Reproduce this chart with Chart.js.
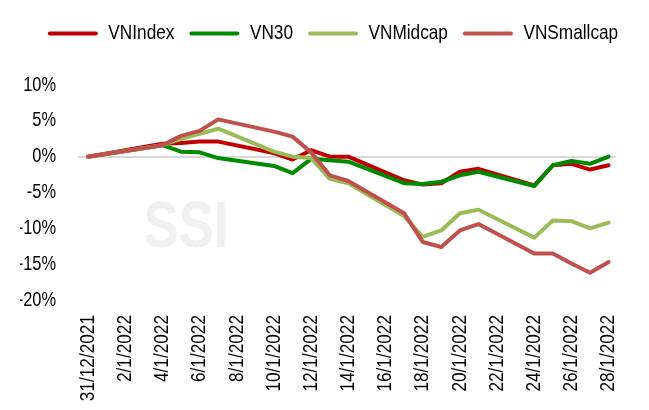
<!DOCTYPE html>
<html>
<head>
<meta charset="utf-8">
<script src="https://cdn.jsdelivr.net/npm/chart.js@4.4.0/dist/chart.umd.min.js"></script>
<style>
  html, body { margin: 0; padding: 0; background: #fff; }
  #wrap { width: 649px; height: 410px; }
</style>
</head>
<body>
<div id="wrap"><canvas id="myChart" width="649" height="410"></canvas></div>
<script>
// trading days
var dates = ["31/12/2021", "4/1/2022", "5/1/2022", "6/1/2022", "7/1/2022",
  "10/1/2022", "11/1/2022", "12/1/2022", "13/1/2022", "14/1/2022",
  "17/1/2022", "18/1/2022", "19/1/2022", "20/1/2022", "21/1/2022",
  "24/1/2022", "25/1/2022", "26/1/2022", "27/1/2022", "28/1/2022"];

// axis labels every 2 days
var tickLabels = ["31/12/2021", "2/1/2022", "4/1/2022", "6/1/2022", "8/1/2022",
  "10/1/2022", "12/1/2022", "14/1/2022", "16/1/2022", "18/1/2022",
  "20/1/2022", "22/1/2022", "24/1/2022", "26/1/2022", "28/1/2022"];

var seriesNames = ["VNIndex", "VN30", "VNMidcap", "VNSmallcap"];

// % change since 31/12/2021
var vnIndex = [0, 1.8, 1.9, 2.1, 2.1, 0.5, -0.4, 0.9, 0.0, 0.0, -3.3, -3.9, -3.7, -2.1, -1.7, -4.0, -1.2, -1.0, -1.8, -1.2];
var vn30 = [0, 1.6, 0.7, 0.6, -0.2, -1.3, -2.3, -0.3, -0.5, -0.7, -3.7, -3.8, -3.5, -2.6, -2.1, -4.1, -1.2, -0.6, -1.0, 0.0];
var vnMidcap = [0, 1.6, 2.5, 3.2, 3.9, 0.7, 0.0, -0.2, -3.1, -3.7, -8.3, -11.2, -10.3, -7.9, -7.4, -11.3, -8.9, -9.0, -10.0, -9.2];
var vnSmallcap = [0, 1.6, 2.9, 3.6, 5.2, 3.5, 2.8, 0.6, -2.6, -3.4, -7.9, -11.9, -12.6, -10.3, -9.4, -13.5, -13.5, -14.9, -16.2, -14.7];

var colors = ["#c00000", "#008a00", "#9bbb59", "#c0504d"];

// days since first date
function dayOf(s) {
  var p = s.split("/");
  var q = dates[0].split("/");
  return (Date.UTC(+p[2], +p[1] - 1, +p[0]) - Date.UTC(+q[2], +q[1] - 1, +q[0])) / 86400000;
}

var tickDays = tickLabels.map(dayOf);

function points(values) {
  return dates.map(function (d, i) {
    return { x: dayOf(d), y: values[i] };
  });
}

var allSeries = [vnIndex, vn30, vnMidcap, vnSmallcap];
var datasets = [];
for (var i = 0; i < allSeries.length; i++) {
  datasets.push({
    label: seriesNames[i],
    data: points(allSeries[i]),
    borderColor: colors[i],
    backgroundColor: colors[i],
    borderWidth: 4,
    pointRadius: 0,
    tension: 0,
    borderJoinStyle: "round",
    borderCapStyle: "round",
    order: allSeries.length - i
  });
}

var FONT = "'Liberation Sans', Arial, sans-serif";

// no narrow font installed: squeeze text horizontally (Arial Narrow look)
var NARROW = 0.82;
var ctx = document.getElementById("myChart").getContext("2d");
var origFill = ctx.fillText;
var origMeasure = ctx.measureText;
ctx.fillText = function (t, x, y) {
  this.save();
  this.translate(x, y);
  this.scale(NARROW, 1);
  origFill.call(this, t, 0, 0);
  this.restore();
};
ctx.measureText = function (t) {
  var m = origMeasure.call(this, t);
  return {
    width: m.width * NARROW,
    actualBoundingBoxAscent: m.actualBoundingBoxAscent,
    actualBoundingBoxDescent: m.actualBoundingBoxDescent,
    actualBoundingBoxLeft: m.actualBoundingBoxLeft * NARROW,
    actualBoundingBoxRight: m.actualBoundingBoxRight * NARROW
  };
};

// make room between legend and plot, nudge legend a bit right
var legendGap = {
  id: "legendGap",
  beforeInit: function (chart) {
    var fit = chart.legend.fit;
    chart.legend.fit = function () {
      fit.bind(chart.legend)();
      this.height = 77;
      if (this.lineWidths && this.lineWidths.length === 1) {
        this.lineWidths[0] -= 11;
      }
    };
  }
};

// SSI watermark
var watermark = {
  id: "watermark",
  beforeDatasetsDraw: function (chart) {
    var c = chart.ctx;
    c.save();
    c.fillStyle = "#f0f0f0";
    c.font = "bold 64px " + FONT;
    c.textAlign = "center";
    c.textBaseline = "middle";
    c.fillText("SSI", 186, 229);
    c.restore();
  }
};

var myChart = new Chart(ctx, {
  type: "line",
  data: { datasets: datasets },
  plugins: [legendGap, watermark],
  options: {
    responsive: false,
    animation: false,
    devicePixelRatio: 1,
    layout: { padding: { top: 8, left: 20, right: 14, bottom: 0 } },
    plugins: {
      tooltip: { enabled: false },
      legend: {
        position: "top",
        align: "center",
        labels: {
          color: "#000",
          font: { family: FONT, size: 21 },
          boxWidth: 50,
          boxHeight: 4,
          padding: 15,
          sort: function (a, b) { return a.datasetIndex - b.datasetIndex; },
          generateLabels: function (chart) {
            var items = Chart.defaults.plugins.legend.labels.generateLabels(chart);
            items.forEach(function (it) {
              it.lineWidth = 0;
              it.borderRadius = 2;
            });
            return items;
          }
        }
      }
    },
    scales: {
      x: {
        type: "linear",
        min: -0.54,
        max: 28.39,
        afterBuildTicks: function (scale) {
          scale.ticks = tickDays.map(function (d) { return { value: d }; });
        },
        afterFit: function (scale) { scale.height = 110; },
        grid: { display: false, drawTicks: false },
        border: { display: false },
        ticks: {
          autoSkip: false,
          minRotation: 90,
          maxRotation: 90,
          padding: 15,
          color: "#000",
          font: { family: FONT, size: 21 },
          callback: function (value) {
            var k = tickDays.indexOf(value);
            return k >= 0 ? tickLabels[k] : "";
          }
        }
      },
      y: {
        min: -20,
        max: 10,
        afterFit: function (scale) { scale.width = 58; },
        grid: {
          drawTicks: false,
          lineWidth: 2,
          color: function (c) {
            return c.tick && c.tick.value === 0 ? "#d9d9d9" : "rgba(0,0,0,0)";
          }
        },
        border: { display: false },
        ticks: {
          stepSize: 5,
          padding: 22,
          color: "#000",
          font: { family: FONT, size: 20 },
          callback: function (value) { return value + "%"; }
        }
      }
    }
  }
});
</script>
</body>
</html>
